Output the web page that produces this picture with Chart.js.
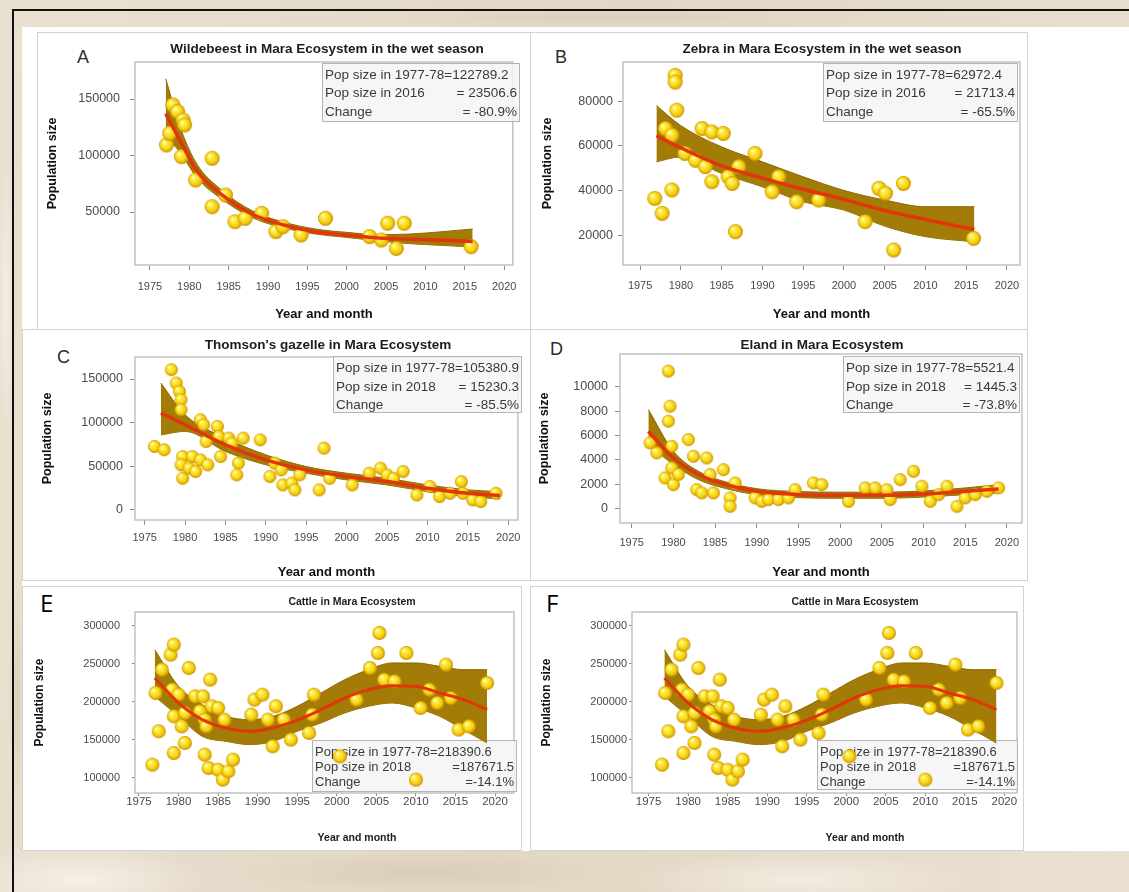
<!DOCTYPE html>
<html>
<head>
<meta charset="utf-8">
<title>Population trends in the Mara Ecosystem</title>
<script src="https://cdn.jsdelivr.net/npm/chart.js@4.4.1/dist/chart.umd.min.js"></script>
<style>
  html, body { margin: 0; padding: 0; }
  body {
    width: 1129px; height: 892px; position: relative; overflow: hidden;
    font-family: 'Liberation Sans', Arial, sans-serif;
    background-color: #e6dbc9;
    background-image:
      radial-gradient(ellipse 180px 50px at 80px 880px, rgba(246,241,232,0.9), rgba(246,241,232,0) 70%),
      radial-gradient(ellipse 260px 30px at 420px 872px, rgba(212,198,175,0.6), rgba(212,198,175,0) 70%),
      radial-gradient(ellipse 240px 40px at 800px 880px, rgba(245,239,229,0.8), rgba(245,239,229,0) 70%),
      radial-gradient(ellipse 300px 12px at 600px 18px, rgba(214,201,180,0.6), rgba(214,201,180,0) 70%),
      radial-gradient(ellipse 12px 200px at 6px 300px, rgba(246,241,232,0.8), rgba(246,241,232,0) 70%),
      radial-gradient(ellipse 10px 160px at 17px 700px, rgba(212,198,175,0.6), rgba(212,198,175,0) 70%),
      linear-gradient(100deg, rgba(255,255,255,0.15), rgba(200,185,160,0.12) 50%, rgba(255,255,255,0.15));
  }
  .rule { position: absolute; background: #111; }
  #sheet { position: absolute; left: 22px; top: 27px; width: 1107px; height: 824px; background: #fff; }
  .panel { position: absolute; border: 1px solid #d3d3d3; box-sizing: border-box; }
  canvas { position: absolute; }
  .tag { position: absolute; line-height: 1; color: #2c2c2c; font-size: 18px; }
  .tag.big { font-family: 'Open Sans', sans-serif; font-size: 24px; color: #000; }
</style>
</head>
<body>
<div class="rule" style="left:12px;top:9px;width:1117px;height:2px"></div>
<div class="rule" style="left:12px;top:9px;width:2px;height:883px"></div>
<div id="sheet"></div>
<div class="panel" style="left:37px;top:32px;width:494px;height:298px"></div>
<div class="panel" style="left:530px;top:32px;width:498px;height:298px"></div>
<div class="panel" style="left:22px;top:329px;width:509px;height:252px"></div>
<div class="panel" style="left:530px;top:329px;width:498px;height:252px"></div>
<div class="panel" style="left:22px;top:586px;width:500px;height:265px"></div>
<div class="panel" style="left:530px;top:586px;width:494px;height:265px"></div>
<div class="tag" style="left:77px;top:48px">A</div>
<div class="tag" style="left:555px;top:48px">B</div>
<div class="tag" style="left:57px;top:348px">C</div>
<div class="tag" style="left:550px;top:340px">D</div>
<div class="tag big" style="left:40px;top:591px">E</div>
<div class="tag big" style="left:546px;top:591px">F</div>

<script>
// ---- data ----
const xTickYears = [1975, 1980, 1985, 1990, 1995, 2000, 2005, 2010, 2015, 2020];

// A: wildebeest, wet season
const wildebeestYears = [1977.1, 1977.5, 1977.9, 1978.5, 1979.0, 1979.2, 1979.4, 1980.8, 1982.9, 1982.9, 1984.6, 1985.8, 1987.1, 1989.2, 1991.0, 1991.9, 1994.2, 1997.3, 2002.9, 2004.4, 2005.2, 2006.3, 2007.3, 2015.8];
const wildebeestCounts = [109300, 119600, 144700, 138900, 99000, 131400, 127000, 78300, 97500, 54700, 65000, 41400, 44400, 48800, 32600, 37000, 29600, 44400, 28200, 25200, 40000, 17800, 40000, 19300];
const wildebeestFitYears = [1977, 1979, 1981, 1984, 1988, 1992, 1996, 2000, 2004, 2008, 2012, 2016];
const wildebeestFit = [137000, 111000, 86000, 66000, 48000, 38500, 32500, 29500, 27000, 25800, 25200, 24000];
const wildebeestUpper = [168000, 122000, 92000, 70000, 51000, 41000, 35000, 32000, 30000, 30500, 32500, 35000];
const wildebeestLower = [118000, 101000, 80000, 62000, 45000, 36000, 30500, 27500, 24500, 22000, 20500, 19000];
const wildebeestTicks = [50000, 100000, 150000];
const wildebeestStats = [['Pop size in 1977-78=122789.2', ''], ['Pop size in 2016', '= 23506.6'], ['Change', '= -80.9%']];

// B: zebra, wet season
const zebraYears = [1976.8, 1977.7, 1978.1, 1978.9, 1978.9, 1979.3, 1979.3, 1979.5, 1980.5, 1981.8, 1982.6, 1983.0, 1983.8, 1983.8, 1985.2, 1985.8, 1986.3, 1986.7, 1987.1, 1989.1, 1991.2, 1992.0, 1994.2, 1996.9, 2002.6, 2004.3, 2005.1, 2006.1, 2007.3, 2015.9];
const zebraCounts = [36400, 29700, 67700, 64700, 40200, 91500, 88500, 75900, 56500, 53500, 67700, 50600, 66200, 43900, 65500, 46100, 43100, 21500, 50600, 56500, 39400, 46100, 34900, 35700, 26000, 40900, 38700, 13300, 43100, 18500];
const zebraFitYears = [1977, 1980, 1985, 1990, 1995, 2000, 2005, 2010, 2016];
const zebraFit = [64500, 59000, 51000, 45500, 40500, 36000, 31000, 27000, 22500];
const zebraUpper = [78000, 69000, 59500, 52800, 46100, 40000, 35700, 32700, 32700];
const zebraLower = [52800, 55000, 47600, 41600, 34900, 31200, 24000, 19300, 17000];
const zebraTicks = [20000, 40000, 60000, 80000];
const zebraStats = [['Pop size in 1977-78=62972.4', ''], ['Pop size in 2016', '= 21713.4'], ['Change', '= -65.5%']];

// C: Thomson's gazelle
const gazelleYears = [1976.2, 1977.4, 1978.3, 1978.9, 1979.3, 1979.5, 1979.5, 1979.7, 1979.5, 1979.7, 1980.5, 1980.9, 1981.3, 1981.9, 1981.9, 1982.3, 1982.6, 1982.8, 1984.0, 1984.2, 1984.4, 1985.4, 1985.8, 1986.6, 1986.4, 1987.2, 1989.3, 1990.5, 1991.1, 1991.9, 1992.1, 1993.2, 1994.2, 1993.6, 1996.6, 1997.2, 1997.9, 2000.7, 2002.8, 2004.2, 2005.0, 2005.8, 2007.0, 2008.7, 2010.3, 2011.5, 2012.8, 2014.2, 2014.4, 2015.6, 2016.6, 2018.5];
const gazelleCounts = [72700, 68900, 160700, 145400, 135800, 126300, 114800, 61200, 51700, 36300, 47800, 61200, 44000, 103300, 57400, 97600, 78400, 51700, 95700, 84200, 61200, 82300, 76500, 53600, 40200, 82300, 80300, 38300, 53600, 45900, 28700, 30600, 40200, 23000, 23000, 70800, 36300, 28700, 42100, 47800, 40200, 36300, 44000, 17200, 26800, 15300, 19100, 32500, 19100, 11500, 9600, 19100];
const gazelleFitYears = [1977, 1980, 1985, 1990, 1995, 2000, 2005, 2010, 2015, 2019];
const gazelleFit = [111000, 97600, 74600, 57400, 45900, 38300, 32500, 24900, 19100, 16500];
const gazelleUpper = [145400, 109000, 82300, 63100, 49700, 42100, 36300, 28700, 23000, 21000];
const gazelleLower = [86000, 90000, 67000, 51700, 42100, 34400, 28700, 21000, 15300, 12600];
const gazelleTicks = [0, 50000, 100000, 150000];
const gazelleStats = [['Pop size in 1977-78=105380.9', ''], ['Pop size in 2018', '= 15230.3'], ['Change', '= -85.5%']];

// D: eland
const elandYears = [1977.2, 1978.0, 1979.0, 1979.4, 1979.6, 1979.4, 1979.8, 1979.8, 1980.0, 1980.6, 1981.8, 1982.4, 1982.8, 1983.4, 1984.0, 1984.4, 1984.8, 1986.0, 1986.8, 1986.8, 1987.4, 1989.8, 1990.6, 1991.4, 1992.6, 1993.8, 1994.6, 1996.8, 1997.8, 2001.0, 2003.0, 2004.2, 2005.6, 2006.0, 2007.2, 2008.8, 2009.8, 2010.8, 2011.8, 2012.8, 2014.0, 2015.0, 2016.2, 2017.6, 2019.0];
const elandCounts = [5400, 4580, 2520, 11290, 8410, 7180, 5120, 3340, 1970, 2800, 5670, 4300, 1560, 1290, 4160, 2800, 1290, 3200, 880, 190, 2110, 880, 600, 740, 740, 880, 1560, 2110, 1970, 600, 1700, 1700, 1560, 740, 2380, 3070, 1840, 600, 1150, 1840, 190, 880, 1150, 1420, 1700];
const elandFitYears = [1977, 1980, 1983, 1986, 1990, 1995, 2000, 2005, 2010, 2015, 2019];
const elandFit = [6360, 4160, 2800, 2030, 1420, 1150, 1100, 1100, 1200, 1420, 1620];
const elandUpper = [8140, 4710, 3070, 2250, 1640, 1400, 1350, 1350, 1450, 1700, 1970];
const elandLower = [5260, 3620, 2380, 1700, 1150, 900, 850, 850, 950, 1150, 1290];
const elandTicks = [0, 2000, 4000, 6000, 8000, 10000];
const elandStats = [['Pop size in 1977-78=5521.4', ''], ['Pop size in 2018', '= 1445.3'], ['Change', '= -73.8%']];

// E and F: cattle (the same chart twice)
const cattleYears = [1976.7, 1977.1, 1977.5, 1977.9, 1979.0, 1979.4, 1979.2, 1979.4, 1979.4, 1980.0, 1980.4, 1980.8, 1981.3, 1980.8, 1982.1, 1982.7, 1983.1, 1983.3, 1983.5, 1984.0, 1983.3, 1983.8, 1984.2, 1985.0, 1985.0, 1985.8, 1985.6, 1986.3, 1986.9, 1989.2, 1989.6, 1990.6, 1991.3, 1991.9, 1992.3, 1993.3, 1994.2, 1996.5, 1996.9, 1997.1, 2000.4, 2002.5, 2004.2, 2005.2, 2005.4, 2006.0, 2007.3, 2008.8, 2010.6, 2011.7, 2012.7, 2013.8, 2014.4, 2015.4, 2016.7, 2019.0, 2010.0];
const cattleCounts = [117500, 211600, 161300, 242200, 261900, 275000, 216000, 181000, 132800, 209400, 167800, 146000, 244400, 185300, 207200, 187500, 207200, 176600, 167800, 229100, 130600, 113100, 194100, 191900, 110900, 176600, 97800, 108800, 124100, 183100, 202800, 209400, 176600, 141600, 194100, 176600, 150300, 159100, 183100, 209400, 128400, 202800, 244400, 264100, 290400, 229100, 226900, 264100, 191900, 216000, 198500, 248800, 205000, 163500, 167800, 224700, 97800];
const cattleFitYears = [1977, 1980, 1983, 1986, 1989, 1992, 1995, 1998, 2001, 2004, 2007, 2010, 2013, 2016, 2019];
const cattleFit = [231300, 198500, 176600, 165600, 161300, 166000, 176000, 189700, 205000, 216000, 221200, 220300, 211600, 202800, 189700];
const cattleUpper = [268500, 220300, 196300, 181000, 176600, 181000, 194100, 211600, 229100, 242200, 251000, 251000, 246600, 242200, 242200];
const cattleLower = [207200, 181000, 154700, 148100, 143800, 148100, 161300, 172200, 185300, 194100, 198500, 191900, 181000, 163500, 146000];
const cattleTicks = [100000, 150000, 200000, 250000, 300000];
const cattleStats = [['Pop size in 1977-78=218390.6', ''], ['Pop size in 2018', '=187671.5'], ['Change', '=-14.1%']];

// ---- layout (page pixels) ----
const FONT = "'Liberation Sans', Arial, sans-serif";
const BAND = '#a27c06';
const BAND_EDGE = '#8c6900';
const FIT = '#e2360a';

const panels = [
  { canvas: [22, 27, 505, 300], area: [135, 62, 519, 265], x: [1973.1, 2021.1], y: [3100, 182750],
    title: 'Wildebeest in Mara Ecosystem in the wet season', titleAt: [327, 49], titleSize: 13.5,
    yTitleX: 53, xTitleY: 314, xTitleSize: 13, yTitleSize: 12.5, xTickSize: 11, yTickSize: 12.5,
    tick: 5, xTickPad: 10.4, yTickPad: 10, box: [322, 63, 198, 59], rows: [75, 93, 112], statSize: 13.5, dot: 15, lineW: 3.5,
    data: [wildebeestYears, wildebeestCounts, wildebeestFitYears, wildebeestFit, wildebeestUpper, wildebeestLower, wildebeestTicks, wildebeestStats] },
  { canvas: [530, 27, 505, 300], area: [623, 62, 1020, 265], x: [1972.9, 2021.6], y: [6600, 97500],
    title: 'Zebra in Mara Ecosystem in the wet season', titleAt: [822, 49], titleSize: 13.5,
    yTitleX: 548, xTitleY: 314, xTitleSize: 13, yTitleSize: 12.5, xTickSize: 11, yTickSize: 12.5,
    tick: 5, xTickPad: 9.4, yTickPad: 5, box: [823, 63, 195, 59], rows: [75, 93, 112], statSize: 13.5, dot: 15, lineW: 3.5,
    data: [zebraYears, zebraCounts, zebraFitYears, zebraFit, zebraUpper, zebraLower, zebraTicks, zebraStats] },
  { canvas: [22, 330, 505, 250], area: [135, 357, 522, 520], x: [1973.8, 2021.2], y: [-11500, 175200],
    title: "Thomson's gazelle in Mara Ecosystem", titleAt: [328, 345], titleSize: 13.5,
    yTitleX: 48, xTitleY: 572, xTitleSize: 13, yTitleSize: 12.5, xTickSize: 11, yTickSize: 12.5,
    tick: 5, xTickPad: 6.4, yTickPad: 7, box: [333, 356, 189, 57], rows: [368, 387, 405], statSize: 13.5, dot: 13, lineW: 3.5,
    data: [gazelleYears, gazelleCounts, gazelleFitYears, gazelleFit, gazelleUpper, gazelleLower, gazelleTicks, gazelleStats] },
  { canvas: [530, 330, 500, 250], area: [620, 354, 1022, 523], x: [1973.6, 2021.8], y: [-1180, 12700],
    title: 'Eland in Mara Ecosystem', titleAt: [822, 345], titleSize: 13.5,
    yTitleX: 545, xTitleY: 572, xTitleSize: 13, yTitleSize: 12.5, xTickSize: 11, yTickSize: 12.5,
    tick: 5, xTickPad: 8.4, yTickPad: 7, box: [843, 356, 177, 57], rows: [368, 387, 405], statSize: 13.5, dot: 13, lineW: 3.5,
    data: [elandYears, elandCounts, elandFitYears, elandFit, elandUpper, elandLower, elandTicks, elandStats] },
  { canvas: [22, 586, 500, 265], area: [135, 612, 517, 793], x: [1974.5, 2022.4], y: [80300, 317900],
    title: 'Cattle in Mara Ecosystem', titleAt: [352, 602], titleSize: 10.5,
    yTitleX: 40, xTitleAt: [357, 838], xTitleSize: 10.5, yTitleSize: 12, xTickSize: 11.5, yTickSize: 11,
    tick: 3, xTickPad: -1, yTickPad: 12, box: [312, 740, 205, 52], rows: [752, 767, 782], statSize: 13, dot: 14, lineW: 3,
    data: [cattleYears, cattleCounts, cattleFitYears, cattleFit, cattleUpper, cattleLower, cattleTicks, cattleStats] },
  { canvas: [530, 586, 495, 265], area: [632, 612, 1018, 793], x: [1972.9, 2021.6], y: [80300, 317900],
    title: 'Cattle in Mara Ecosystem', titleAt: [855, 602], titleSize: 10.5,
    yTitleX: 547, xTitleAt: [865, 838], xTitleSize: 10.5, yTitleSize: 12, xTickSize: 11.5, yTickSize: 11,
    tick: 3, xTickPad: -1, yTickPad: 2, box: [817, 740, 201, 50], rows: [752, 767, 782], statSize: 13, dot: 14, lineW: 3,
    data: [cattleYears, cattleCounts, cattleFitYears, cattleFit, cattleUpper, cattleLower, cattleTicks, cattleStats] }
];

// yellow ball used as the point marker
function sphere(d) {
  const c = document.createElement('canvas');
  c.width = c.height = d + 2;
  const g = c.getContext('2d');
  const r = d / 2, cx = c.width / 2, cy = c.height / 2;
  const grad = g.createRadialGradient(cx - r * 0.35, cy - r * 0.4, r * 0.05, cx, cy, r);
  grad.addColorStop(0, '#fffbe0');
  grad.addColorStop(0.25, '#fff04a');
  grad.addColorStop(0.7, '#f5cf10');
  grad.addColorStop(1, '#c98d00');
  g.fillStyle = grad;
  g.beginPath();
  g.arc(cx, cy, r, 0, Math.PI * 2);
  g.fill();
  return c;
}

// frame around the plot, panel title and the stats box
const panelDeco = {
  id: 'panelDeco',
  beforeDatasetsDraw(chart, args, o) {
    const { ctx, chartArea: a } = chart;
    ctx.save();
    ctx.strokeStyle = '#c2c2c2';
    ctx.lineWidth = 1.5;
    ctx.strokeRect(a.left, a.top, a.right - a.left, a.bottom - a.top);

    ctx.fillStyle = '#1c1c1c';
    ctx.textAlign = 'center';
    ctx.textBaseline = 'middle';
    ctx.font = `bold ${o.titleSize}px ${FONT}`;
    ctx.fillText(o.title, o.titleX, o.titleY);
    if (o.xTitle) {
      ctx.font = `bold ${o.xTitleSize}px ${FONT}`;
      ctx.fillText(o.xTitle, o.xTitleX, o.xTitleY);
    }

    const [bx, by, bw, bh] = o.box;
    ctx.fillStyle = 'rgba(244,244,244,0.85)';
    ctx.fillRect(bx, by, bw, bh);
    ctx.strokeStyle = '#b4b4b4';
    ctx.lineWidth = 1;
    ctx.strokeRect(bx + 0.5, by + 0.5, bw - 1, bh - 1);
    ctx.font = `${o.statSize}px ${FONT}`;
    ctx.fillStyle = '#3a3a3a';
    o.stats.forEach((row, i) => {
      ctx.textAlign = 'left';
      ctx.fillText(row[0], bx + 3, o.rows[i], bw - 6);
      if (row[1]) {
        ctx.textAlign = 'right';
        ctx.fillText(row[1], bx + bw - 3, o.rows[i]);
      }
    });
    ctx.restore();
  }
};

const pts = (xs, ys) => xs.map((x, i) => ({ x: x, y: ys[i] }));

panels.forEach(P => {
  const [cl, ct, cw, ch] = P.canvas;
  const [al, at, ar, ab] = P.area;
  const [years, counts, fitYears, fit, upper, lower, yTicks, stats] = P.data;

  const cv = document.createElement('canvas');
  cv.width = cw;
  cv.height = ch;
  cv.style.left = cl + 'px';
  cv.style.top = ct + 'px';
  document.body.appendChild(cv);

  const yLh = P.yTitleSize * 1.2;
  const xLh = (P.xTitleSize || 10) * 1.2;
  const label = v => String(v);

  new Chart(cv, {
    type: 'line',
    data: {
      datasets: [
        { data: pts(fitYears, upper), fill: '+1', backgroundColor: BAND, borderColor: BAND_EDGE, borderWidth: 1,
          pointRadius: 0, cubicInterpolationMode: 'monotone', order: 3 },
        { data: pts(fitYears, lower), fill: false, borderColor: BAND_EDGE, borderWidth: 1,
          pointRadius: 0, cubicInterpolationMode: 'monotone', order: 3 },
        { data: pts(years, counts), showLine: false, pointStyle: sphere(P.dot), pointRadius: P.dot / 2, order: 2 },
        { data: pts(fitYears, fit), borderColor: FIT, borderWidth: P.lineW, pointRadius: 0,
          cubicInterpolationMode: 'monotone', order: 1 }
      ]
    },
    options: {
      responsive: false,
      animation: false,
      devicePixelRatio: 1,
      events: [],
      layout: { padding: { left: 0, top: at - ct, right: cl + cw - ar, bottom: 0 } },
      plugins: {
        legend: { display: false },
        tooltip: { enabled: false },
        panelDeco: {
          title: P.title, titleSize: P.titleSize, titleX: P.titleAt[0] - cl, titleY: P.titleAt[1] - ct,
          xTitle: P.xTitleAt ? 'Year and month' : null, xTitleSize: P.xTitleSize,
          xTitleX: P.xTitleAt ? P.xTitleAt[0] - cl : 0, xTitleY: P.xTitleAt ? P.xTitleAt[1] - ct : 0,
          box: [P.box[0] - cl, P.box[1] - ct, P.box[2], P.box[3]], rows: P.rows.map(r => r - ct),
          stats: stats, statSize: P.statSize
        }
      },
      scales: {
        x: {
          type: 'linear', min: P.x[0], max: P.x[1],
          afterBuildTicks: s => { s.ticks = xTickYears.map(v => ({ value: v })); },
          afterFit: s => { s.height = ct + ch - ab; },
          grid: { drawOnChartArea: false, tickLength: P.tick, color: '#8a8a8a' },
          border: { display: false },
          ticks: { font: { family: FONT, size: P.xTickSize }, color: '#4a4a4a', padding: P.xTickPad,
                   maxRotation: 0, autoSkip: false, callback: label },
          title: { display: !P.xTitleAt, text: 'Year and month', color: '#111',
                   font: { family: FONT, size: P.xTitleSize, weight: 'bold' },
                   padding: { top: 0, bottom: P.xTitleY ? ch - (P.xTitleY - ct) - xLh / 2 : 0 } }
        },
        y: {
          min: P.y[0], max: P.y[1],
          afterBuildTicks: s => { s.ticks = yTicks.map(v => ({ value: v })); },
          afterFit: s => { s.width = al - cl; },
          grid: { drawOnChartArea: false, tickLength: P.tick, color: '#8a8a8a' },
          border: { display: false },
          ticks: { font: { family: FONT, size: P.yTickSize }, color: '#4a4a4a', padding: P.yTickPad, callback: label },
          title: { display: true, text: 'Population size', color: '#111',
                   font: { family: FONT, size: P.yTitleSize, weight: 'bold' },
                   padding: { top: P.yTitleX - cl - yLh / 2, bottom: 0 } }
        }
      }
    },
    plugins: [panelDeco]
  });
});
</script>
</body>
</html>
